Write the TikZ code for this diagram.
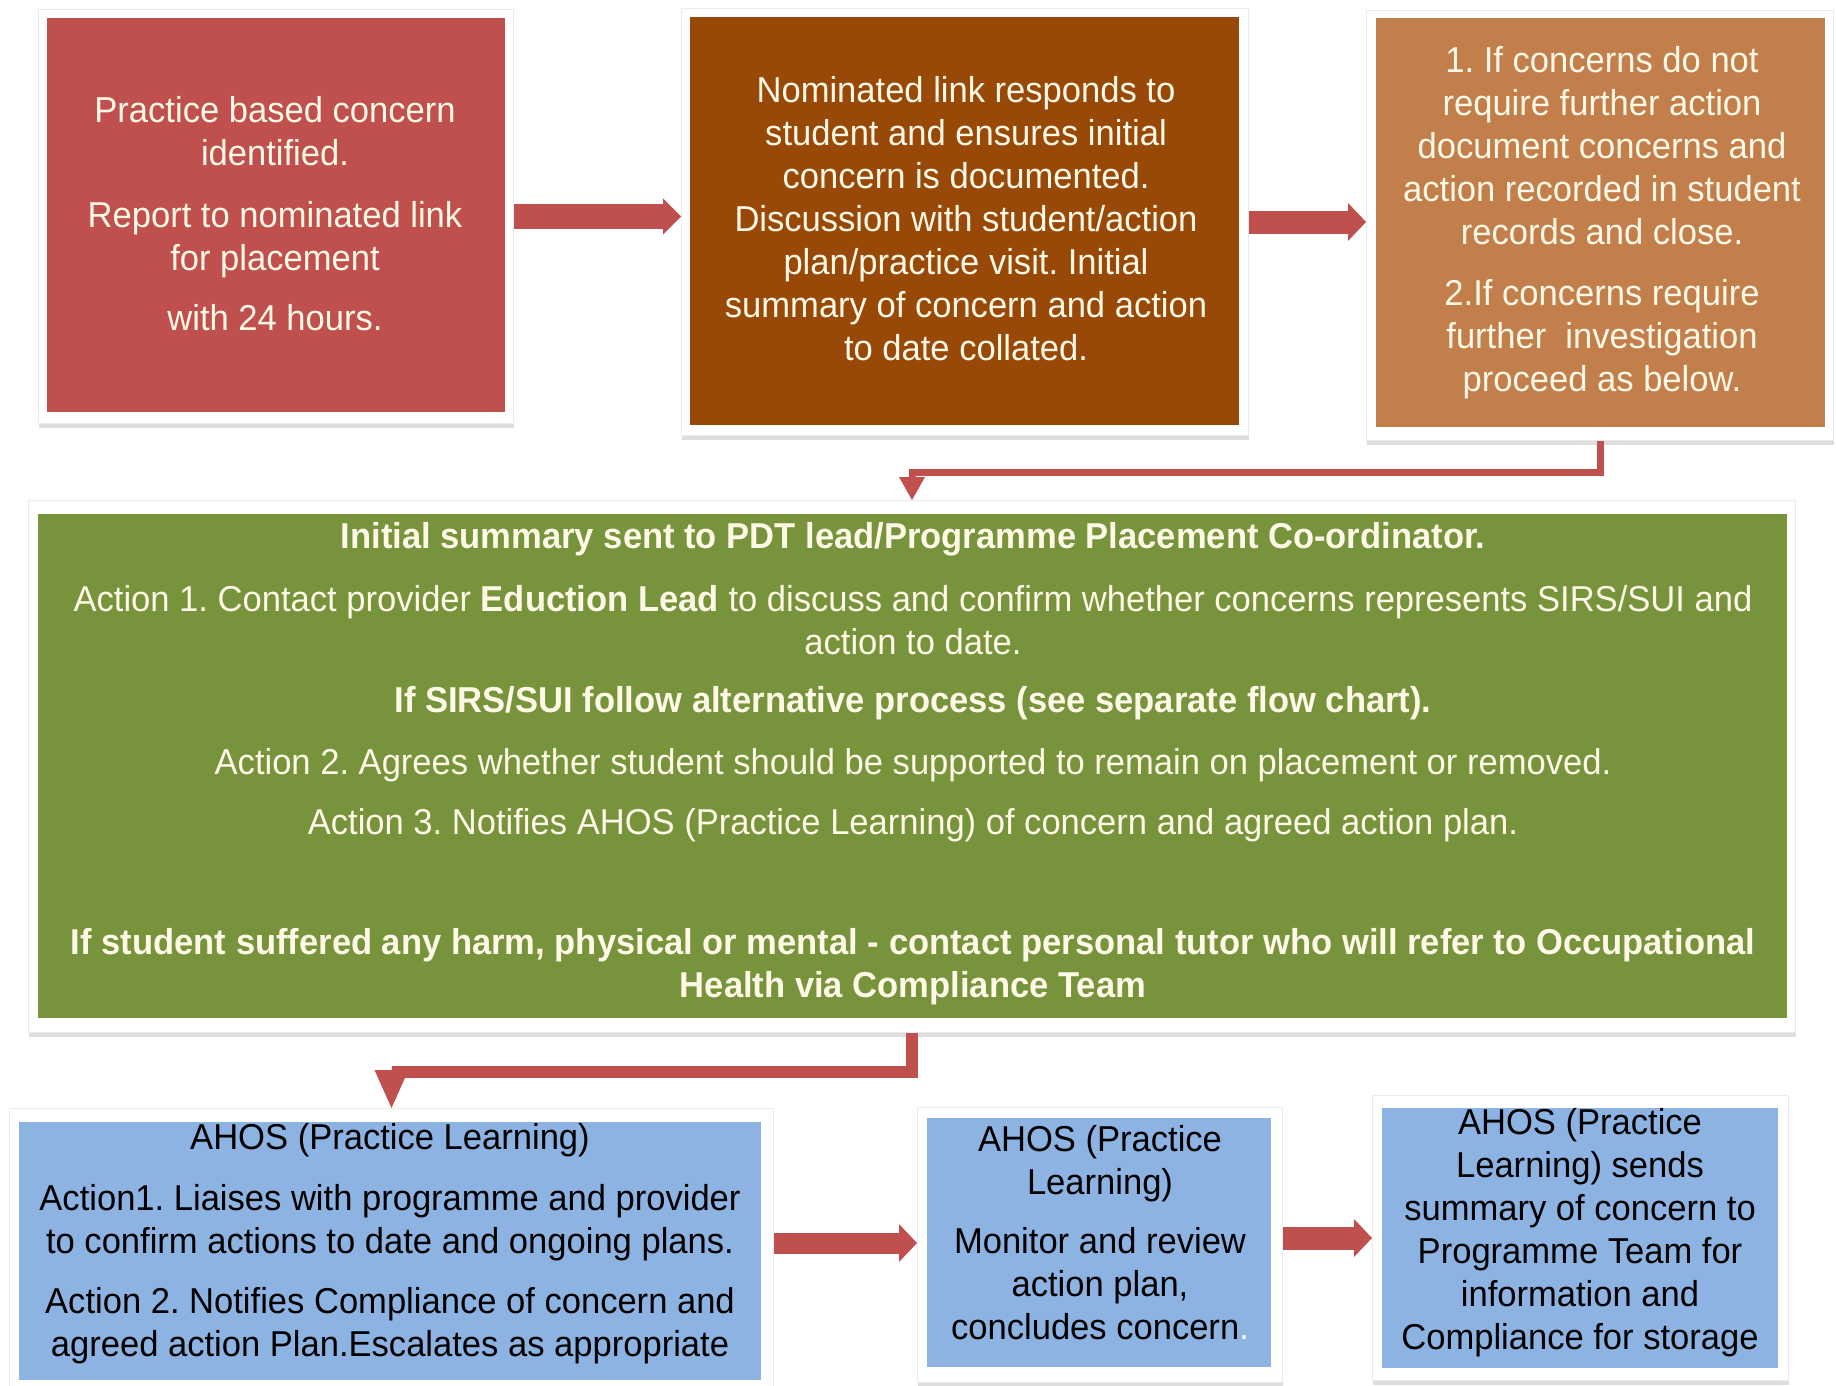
\documentclass[tikz,border=0pt]{standalone}
\usepackage{fontspec}
\setmainfont{Liberation Sans}[FakeStretch=0.96]
\usetikzlibrary{arrows.meta,shadows,calc}
\definecolor{cred}{HTML}{C0504D}
\definecolor{cbrown}{HTML}{984807}
\definecolor{ctan}{HTML}{C27F4B}
\definecolor{cgreen}{HTML}{77933C}
\definecolor{cblue}{HTML}{8DB3E2}
\definecolor{ctext}{HTML}{FEF8E6}
\frenchspacing
\begin{document}
\begin{tikzpicture}[x=1pt,y=-1pt,
  boxframe/.style={rectangle, fill=white, draw=black!8, line width=1pt, inner sep=0pt, anchor=north west,
    drop shadow={shadow xshift=0pt, shadow yshift=-4pt, opacity=0.22, fill=black!60}},
  boxfill/.style={rectangle, draw=none, inner sep=0pt, anchor=north west},
  txt/.style={align=center, inner sep=0pt, font=\fontsize{36}{43}\selectfont},
  lighttxt/.style={txt, text=ctext},
  darktxt/.style={txt, text=black},
  fatarrow/.style={draw=cred, line width=#1},
]
\fill[white] (0,0) rectangle (1836,1386);
\useasboundingbox (0,0) rectangle (1836,1386);

% frames
\node[boxframe, minimum width=475pt, minimum height=414pt] (b1f) at (38,9) {};
\node[boxframe, minimum width=567pt, minimum height=427pt] (b2f) at (681,8) {};
\node[boxframe, minimum width=467pt, minimum height=430pt] (b3f) at (1366,10) {};
\node[boxframe, minimum width=1767pt, minimum height=532pt] (gf) at (28,500) {};
\node[boxframe, minimum width=764pt, minimum height=290pt] (bl1f) at (9,1108) {};
\node[boxframe, minimum width=365pt, minimum height=275pt] (bl2f) at (917,1107) {};
\node[boxframe, minimum width=416pt, minimum height=285pt] (bl3f) at (1372,1095) {};

% fills
\node[boxfill, fill=cred, minimum width=458pt, minimum height=394pt] (b1) at (47,18) {};
\node[boxfill, fill=cbrown, minimum width=549pt, minimum height=408pt] (b2) at (690,17) {};
\node[boxfill, fill=ctan, minimum width=449pt, minimum height=409pt] (b3) at (1376,18) {};
\node[boxfill, fill=cgreen, minimum width=1749pt, minimum height=504pt] (g) at (38,514) {};
\node[boxfill, fill=cblue, minimum width=742pt, minimum height=258pt] (bl1) at (19,1122) {};
\node[boxfill, fill=cblue, minimum width=344pt, minimum height=249pt] (bl2) at (927,1118) {};
\node[boxfill, fill=cblue, minimum width=396pt, minimum height=260pt] (bl3) at (1382,1108) {};

% texts
\node[lighttxt] (t1) at (275,214) {Practice based concern\\ identified.\\[19pt] Report to nominated link\\ for placement\\[17pt] with 24 hours.};
\node[lighttxt] (t2) at (966,219) {Nominated link responds to\\ student and ensures initial\\ concern is documented.\\ Discussion with student/action\\ plan/practice visit. Initial\\ summary of concern and action\\ to date collated.};
\node[lighttxt] (t3) at (1602,223) {1. If concerns do not\\ require further action\\ document concerns and\\ action recorded in student\\ records and close.\\[18pt] 2.If concerns require\\ further\ \ investigation\\ proceed as below.};
\node[lighttxt] (tg) at (913,764) {{\bfseries Initial summary sent to PDT lead/Programme Placement Co-ordinator.}\\[20pt]
Action 1. Contact provider {\bfseries Eduction Lead} to discuss and confirm whether concerns represents SIRS/SUI and\\ action to date.\\[15pt]
{\bfseries If SIRS/SUI follow alternative process (see separate flow chart).}\\[19pt]
Action 2. Agrees whether student should be supported to remain on placement or removed.\\[17pt]
Action 3. Notifies AHOS (Practice Learning) of concern and agreed action plan.\\[77pt]
{\bfseries If student suffered any harm, physical or mental - contact personal tutor who will refer to Occupational}\\
{\bfseries Health via Compliance Team}};
\node[darktxt] (tb1) at (390,1244) {AHOS (Practice Learning)\\[18pt] Action1. Liaises with programme and provider\\ to confirm actions to date and ongoing plans.\\[17pt] Action 2. Notifies Compliance of concern and\\ agreed action Plan.Escalates as appropriate};
\node[darktxt] (tb2) at (1100,1233) {AHOS (Practice\\ Learning)\\[16pt] Monitor and review\\ action plan,\\ concludes concern{\color{white}.}};
\node[darktxt] (tb3) at (1580,1233) {AHOS (Practice\\ Learning) sends\\ summary of concern to\\ Programme Team for\\ information and\\ Compliance for storage};

% connectors
\coordinate (a5) at (0,1243);
\draw[fatarrow=25pt, -{Triangle[length=18pt,width=36pt,line width=0pt]}] (b1f.east) -- (b1f.east -| b2f.west);
\draw[fatarrow=23pt, -{Triangle[length=18pt,width=38pt,line width=0pt]}] (b2f.east) -- (b2f.east -| b3f.west);
\draw[fatarrow=7pt, -{Triangle[length=23pt,width=26pt,line width=0pt]}] (b3f.south) -- ++(0,31) -| (gf.north);
\draw[fatarrow=12pt, -{Triangle[length=38pt,width=34pt,line width=0pt]}] (gf.south) -- ++(0,39) -| (bl1f.north);
\draw[fatarrow=21pt, -{Triangle[length=18pt,width=38pt,line width=0pt]}] (bl1f.east |- a5) -- (bl2f.west |- a5);
\draw[fatarrow=23pt, -{Triangle[length=18pt,width=38pt,line width=0pt]}] (bl3f.west -| bl2f.east) -- (bl3f.west);
\end{tikzpicture}
\end{document}
